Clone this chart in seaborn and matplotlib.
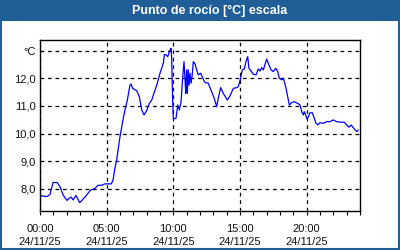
import matplotlib
matplotlib.use("Agg")
import matplotlib.pyplot as plt
from matplotlib.patches import Rectangle
from matplotlib.ticker import MultipleLocator
import seaborn as sns
import pandas as pd

hours = [0.08, 0.53, 0.75, 0.98, 1.28, 1.50, 1.73, 2.03, 2.18, 2.35, 2.48, 2.70, 2.98, 3.35,
         3.80, 4.10, 4.35, 4.65, 4.85, 5.35, 5.48, 5.60, 5.75, 6.00, 6.20, 6.40, 6.55, 6.75,
         6.83, 6.95, 7.25, 7.45, 7.63, 7.80, 8.00, 8.20, 8.38, 8.63, 8.80, 9.00, 9.25, 9.33,
         9.45, 9.58, 9.75, 9.83, 9.88, 9.95, 10.00, 10.20, 10.33, 10.45, 10.58, 10.67, 10.80,
         10.88, 10.93, 11.00, 11.05, 11.12, 11.18, 11.25, 11.33, 11.40, 11.50, 11.63, 11.75,
         11.87, 12.05, 12.25, 12.38, 12.62, 12.80, 13.07, 13.25, 13.37, 13.55, 13.75, 14.05,
         14.25, 14.50, 14.75, 14.87, 15.05, 15.17, 15.32, 15.45, 15.58, 15.67, 15.83, 16.00,
         16.20, 16.37, 16.50, 16.63, 16.75, 17.00, 17.12, 17.33, 17.50, 17.68, 17.83, 17.95,
         18.13, 18.25, 18.43, 18.58, 18.70, 18.88, 19.07, 19.33, 19.50, 19.63, 19.75, 19.82,
         19.93, 20.03, 20.13, 20.25, 20.42, 20.57, 20.68, 20.83, 21.00, 21.25, 21.50, 21.75,
         22.00, 22.25, 22.50, 22.82, 23.00, 23.17, 23.33, 23.50, 23.63, 23.75, 23.87]
dew_point = [7.75, 7.72, 7.80, 8.23, 8.23, 8.08, 7.78, 7.58, 7.66, 7.70, 7.60, 7.76, 7.50, 7.69,
             7.96, 8.01, 8.13, 8.13, 8.18, 8.18, 8.32, 8.70, 9.05, 9.89, 10.43, 10.91, 11.21, 11.75,
             11.79, 11.63, 11.55, 11.33, 10.85, 10.67, 10.83, 11.09, 11.21, 11.57, 11.82, 12.18, 12.54, 12.86,
             12.84, 12.78, 13.02, 13.08, 12.66, 11.15, 10.53, 10.55, 11.03, 10.85, 11.15, 11.82, 12.60,
             11.94, 11.45, 12.30, 11.45, 12.30, 11.75, 12.18, 11.82, 12.05, 12.60, 12.51, 12.30,
             12.12, 12.18, 11.96, 11.84, 11.82, 11.60, 11.27, 10.97, 11.27, 11.66, 11.45, 11.21,
             11.36, 11.63, 11.66, 11.69, 12.00, 12.30, 12.33, 12.60, 12.78, 12.36, 12.26, 12.14,
             12.12, 12.33, 12.26, 12.38, 12.30, 12.69, 12.54, 12.30, 12.24, 12.36, 12.24, 12.00,
             11.94, 12.00, 11.69, 11.33, 11.03, 11.12, 11.15, 11.09, 11.03, 10.79, 10.67, 10.79,
             10.67, 10.52, 10.61, 10.75, 10.75, 10.55, 10.39, 10.31, 10.39, 10.37, 10.43, 10.43,
             10.49, 10.43, 10.41, 10.41, 10.31, 10.23, 10.31, 10.21, 10.13, 10.07, 10.13]

x_ticks = [0, 5, 10, 15, 20]
x_labels = ["00:00\n24/11/25", "05:00\n24/11/25", "10:00\n24/11/25", "15:00\n24/11/25", "20:00\n24/11/25"]
y_ticks = [8, 9, 10, 11, 12, 13]
y_labels = ["8,0", "9,0", "10,0", "11,0", "12,0", "°C"]
title = "Punto de rocío [°C] escala"

sns.set_style("white")
plt.rcParams["font.family"] = ["Liberation Sans", "DejaVu Sans"]

df = pd.DataFrame({"hour": hours, "dew": dew_point})

fig = plt.figure(figsize=(4, 2.5), dpi=100)
fig.patch.set_facecolor("white")
ax = fig.add_axes([0.1, 0.156, 0.8, 0.684])

sns.lineplot(data=df, x="hour", y="dew", ax=ax, color="#0000ff", linewidth=0.9)

ax.set_xlim(0, 24)
ax.set_ylim(7.2, 13.38)
ax.set_xticks(x_ticks)
ax.set_xticklabels(x_labels, fontsize=8, color="#111111", linespacing=1.45)
ax.xaxis.set_minor_locator(MultipleLocator(1))
ax.set_yticks(y_ticks)
ax.set_yticklabels(y_labels, fontsize=8, color="#111111")
ax.tick_params(axis="x", which="both", direction="out", length=3, width=0.8, color="black", pad=6, bottom=True)
ax.tick_params(axis="y", which="both", length=0, pad=3)
ax.grid(True, which="major", color="black", linestyle=(0, (3, 3)), linewidth=0.9)
ax.set_xlabel("")
ax.set_ylabel("")
for s in ax.spines.values():
    s.set_visible(True)
    s.set_color("black")
    s.set_linewidth(1.0)

blue = "#1f5e96"
fig.patches.append(Rectangle((0, 1 - 20.5 / 250), 1, 20.5 / 250, transform=fig.transFigure,
                             facecolor=blue, edgecolor="none", zorder=0))
fig.patches.append(Rectangle((0.5 / 400, 1.5 / 250), 398.5 / 400, 1 - 2 / 250, transform=fig.transFigure,
                             facecolor="none", edgecolor=blue, linewidth=1.5, zorder=0))
fig.text(0.525, 1 - 10.5 / 250, title, color="white", fontsize=9, fontweight="bold",
         ha="center", va="center")

fig.savefig("out.png", dpi=100)
